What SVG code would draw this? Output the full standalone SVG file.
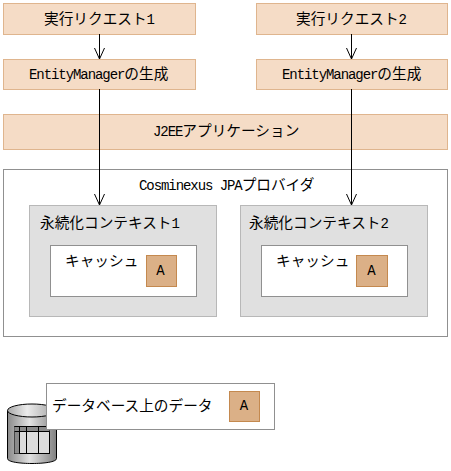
<svg xmlns="http://www.w3.org/2000/svg" width="451" height="471" viewBox="0 0 451 471">
<style>
text{font-family:"Noto Sans CJK JP","Liberation Sans",sans-serif;font-size:14.67px;fill:#000;font-weight:400}
.m{font-family:"Liberation Mono",monospace;font-size:14px;letter-spacing:-1.07px}
.c{text-anchor:middle}
.p{fill:#f5dcc6;stroke:#dfb58e;stroke-width:1}
.o{fill:#fff;stroke:#909090;stroke-width:1}
.g{fill:#e0e0e0;stroke:#b8b8b8;stroke-width:1}
.a{fill:#dbb087;stroke:#c4894f;stroke-width:1}
.l{fill:none;stroke:#000;stroke-width:1}
.d{stroke:#000;stroke-width:1}
</style>
<defs>
<linearGradient id="cyl" x1="0" x2="1" y1="0" y2="0"><stop offset="0" stop-color="#8a8a8a"/><stop offset=".45" stop-color="#e2e2e2"/><stop offset="1" stop-color="#808080"/></linearGradient>
<linearGradient id="top" x1="0" x2="1" y1="0" y2="0"><stop offset="0" stop-color="#a8a8a8"/><stop offset=".4" stop-color="#ececec"/><stop offset="1" stop-color="#a0a0a0"/></linearGradient>
</defs>
<g id="request1"><rect class="p" x="3.5" y="3.5" width="192" height="31"/><text x="44" y="24">実行リクエスト<tspan class="m">1</tspan></text></g>
<g id="request2"><rect class="p" x="256.5" y="3.5" width="191" height="31"/><text x="296" y="24">実行リクエスト<tspan class="m">2</tspan></text></g>
<g id="em1"><rect class="p" x="3.5" y="59.5" width="192" height="30"/><text x="29" y="79"><tspan class="m">EntityManager</tspan>の生成</text></g>
<g id="em2"><rect class="p" x="256.5" y="59.5" width="191" height="30"/><text x="282" y="79"><tspan class="m">EntityManager</tspan>の生成</text></g>
<g id="j2ee"><rect class="p" x="3.5" y="114.5" width="444" height="35"/><text x="153" y="136"><tspan class="m">J2EE</tspan>アプリケーション</text></g>
<g id="provider"><rect class="o" x="3.5" y="169.5" width="444" height="167"/><text x="139" y="190"><tspan class="m">Cosminexus JPA</tspan>プロバイダ</text></g>
<g id="context1"><rect class="g" x="29.5" y="205.5" width="187" height="111"/><text x="40" y="228">永続化コンテキスト<tspan class="m">1</tspan></text></g>
<g id="cache1"><rect class="o" x="50.5" y="245.5" width="146" height="51"/><text x="65" y="266">キャッシュ</text></g>
<g id="a1"><rect class="a" x="146.5" y="255.5" width="30" height="31"/><text class="m c" x="160" y="275">A</text></g>
<g id="context2"><rect class="g" x="240.5" y="205.5" width="187" height="111"/><text x="249" y="228">永続化コンテキスト<tspan class="m">2</tspan></text></g>
<g id="cache2"><rect class="o" x="261.5" y="245.5" width="146" height="51"/><text x="276" y="266">キャッシュ</text></g>
<g id="a2"><rect class="a" x="356.5" y="255.5" width="31" height="31"/><text class="m c" x="371" y="275">A</text></g>
<g id="database">
<path d="M7.5 411V458.5C7.5 462 20 463.5 32 463.5S56.5 462 56.5 458.5V411Z" fill="url(#cyl)" class="d"/>
<ellipse cx="32" cy="410.5" rx="24.5" ry="6.5" fill="url(#top)" class="d"/>
<rect x="14.5" y="426.5" width="35" height="27" fill="#dcdcdc" class="d"/>
<rect x="14.5" y="426.5" width="35" height="5" fill="#8a8a8a" stroke="none"/>
<rect x="14.5" y="426.5" width="5" height="27" fill="#8a8a8a" stroke="none"/>
<path class="l" d="M14.5 426.5H49.5M14.5 431.5H49.5M19.5 426.5V453.5M26.5 426.5V453.5M38.5 426.5V453.5"/>
</g>
<g id="dbdata"><rect class="o" x="46.5" y="383.5" width="228" height="46"/><text x="52" y="411">データベース上のデータ</text></g>
<g id="a3"><rect class="a" x="229.5" y="391.5" width="30" height="30"/><text class="m c" x="243.5" y="410">A</text></g>
<g id="connectors">
<path class="l" d="M99.5 34V59M94.5 48L99.5 59L104.5 48"/>
<path class="l" d="M351.5 34V59M346.5 48L351.5 59L356.5 48"/>
<path class="l" d="M99.5 89V205M94.5 194L99.5 205L104.5 194"/>
<path class="l" d="M351.5 89V205M346.5 194L351.5 205L356.5 194"/>
</g>
</svg>
